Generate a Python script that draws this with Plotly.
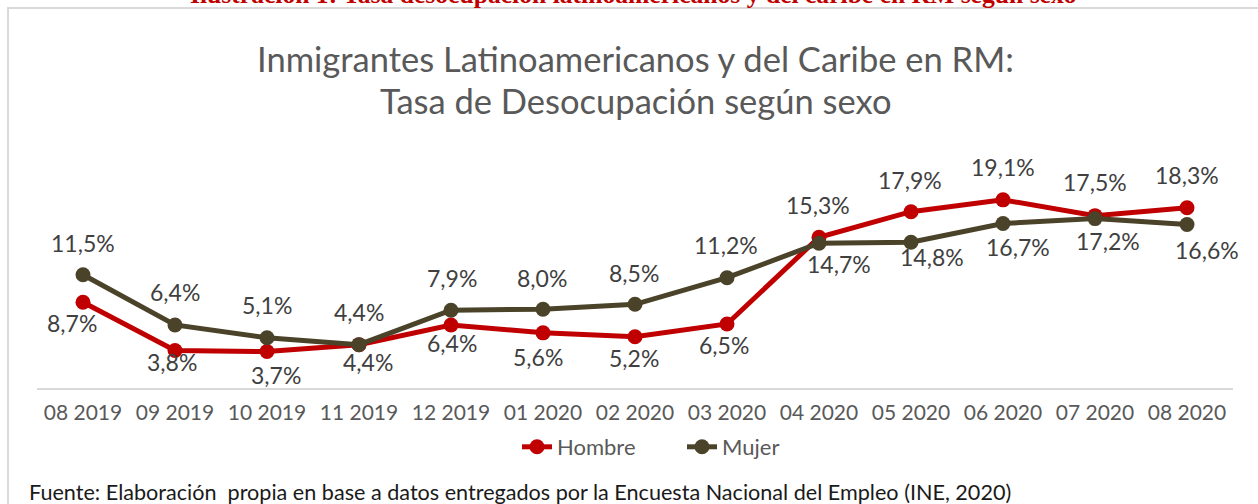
import plotly.graph_objects as go

months = ["08 2019", "09 2019", "10 2019", "11 2019", "12 2019", "01 2020", "02 2020",
          "03 2020", "04 2020", "05 2020", "06 2020", "07 2020", "08 2020"]
hombre = [8.7, 3.8, 3.7, 4.4, 6.4, 5.6, 5.2, 6.5, 15.3, 17.9, 19.1, 17.5, 18.3]
mujer = [11.5, 6.4, 5.1, 4.4, 7.9, 8.0, 8.5, 11.2, 14.7, 14.8, 16.7, 17.2, 16.6]

# label offsets in pixels (dx, dy down)
hombre_off = [(-11, 21), (-3, 11), (9, 23), (9, 17), (1, 18), (-5, 24), (-1, 21), (-3, 21),
              (-1, -32), (-1, -32), (0, -33), (0, -34), (0, -33)]
mujer_off = [(0, -32), (0, -33), (0, -33), (0, -33), (1, -32), (-1, -31), (-1, -31), (-1, -33),
             (20, 21), (21, 15), (15, 23), (13, 22), (20, 26)]

RED = "#C00000"
OLIVE = "#4A4329"
FONT = "Lato"

W, H = 1258, 504
L, R, T, B = 37, 1233, 191, 388


def px_x(p):
    return (p - L) / (R - L)


def px_y(p):
    return (B - p) / (B - T)


fig = go.Figure()
fig.add_trace(go.Scatter(x=list(range(len(months))), y=hombre, name="Hombre", mode="lines+markers",
                         line=dict(color=RED, width=5), marker=dict(size=15, color=RED)))
fig.add_trace(go.Scatter(x=list(range(len(months))), y=mujer, name="Mujer", mode="lines+markers",
                         line=dict(color=OLIVE, width=5), marker=dict(size=15, color=OLIVE)))

ann = []
for vals, offs in ((hombre, hombre_off), (mujer, mujer_off)):
    for i, (v, (dx, dy)) in enumerate(zip(vals, offs)):
        ann.append(dict(x=i, y=v, xref="x", yref="y", text=f"{v:.1f}%".replace(".", ","),
                        showarrow=False, xshift=dx, yshift=-dy, xanchor="center", yanchor="middle",
                        font=dict(family=FONT, size=23, color="#404040")))

ann.append(dict(x=px_x(635), y=px_y(58), xref="paper", yref="paper", showarrow=False,
                xanchor="center", yanchor="middle",
                text="Inmigrantes Latinoamericanos y del Caribe en RM:",
                font=dict(family=FONT, size=34.5, color="#595959")))
ann.append(dict(x=px_x(635), y=px_y(100), xref="paper", yref="paper", showarrow=False,
                xanchor="center", yanchor="middle",
                text="Tasa de Desocupación según sexo",
                font=dict(family=FONT, size=34.5, color="#595959")))
ann.append(dict(x=px_x(27), y=px_y(492), xref="paper", yref="paper", showarrow=False,
                xanchor="left", yanchor="middle",
                text="Fuente: Elaboración  propia en base a datos entregados por la Encuesta Nacional del Empleo (INE, 2020)",
                font=dict(family=FONT, size=21.6, color="#1A1A1A")))
ann.append(dict(x=px_x(633), y=px_y(11), xref="paper", yref="paper", showarrow=False,
                xanchor="center", yanchor="bottom",
                text="<b>Ilustración 1: Tasa desocupación latinoamericanos y del caribe en RM según sexo</b>",
                font=dict(family="Liberation Serif", size=25.6, color=RED)))

fig.update_layout(
    width=W, height=H,
    margin=dict(l=L, r=W - R, t=T, b=H - B, pad=0),
    paper_bgcolor="white", plot_bgcolor="white",
    showlegend=True,
    legend=dict(orientation="h", x=0.5 + 47 / (R - L), xanchor="center", y=px_y(447), yanchor="middle",
                font=dict(family=FONT, size=22, color="#595959"), entrywidth=120,
                entrywidthmode="pixels", bgcolor="rgba(0,0,0,0)"),
    annotations=ann,
    shapes=[dict(type="rect", xref="paper", yref="paper", x0=px_x(8), x1=px_x(1300),
                 y0=px_y(560), y1=px_y(8), line=dict(color="#D9D9D9", width=2), layer="below")],
    xaxis=dict(range=[-0.5, len(months) - 0.5], tickmode="array", tickvals=list(range(len(months))),
               ticktext=months, showgrid=False, zeroline=False, showline=True,
               linecolor="#D9D9D9", linewidth=2, ticks="", ticklabelstandoff=5,
               tickfont=dict(family=FONT, size=21, color="#595959"), fixedrange=True),
    yaxis=dict(range=[0, 20], visible=False, showgrid=False, zeroline=False, fixedrange=True),
)

fig.write_html("out.html", config={"displayModeBar": False},
               post_script="document.body.style.margin='0';")
